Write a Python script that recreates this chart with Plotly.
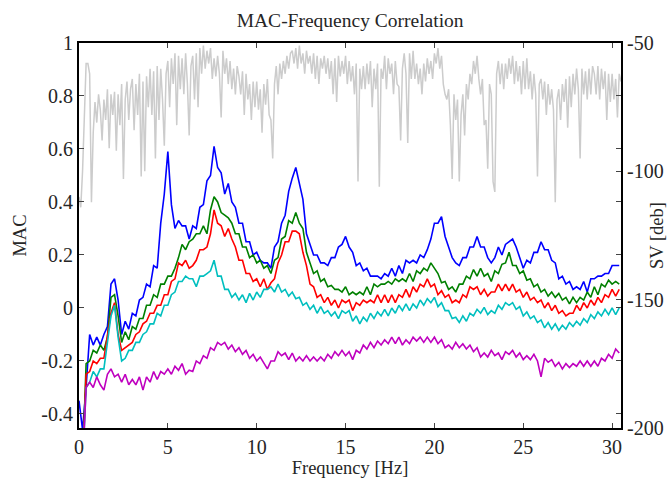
import plotly.graph_objects as go

step = 0.2
n_col = 153
freq = [round(i * step, 2) for i in range(n_col)]

blue = [
    -0.35, -0.46, -0.30, -0.10, -0.14, -0.11, -0.14, -0.10, -0.07, 0.09,
    0.11, 0.03, -0.10, -0.05, -0.08, -0.02, -0.03, 0.03, 0.04, 0.09,
    0.08, 0.16, 0.15, 0.32, 0.43, 0.59, 0.39, 0.30, 0.33, 0.31,
    0.31, 0.26, 0.31, 0.30, 0.38, 0.39, 0.48, 0.50, 0.61, 0.53,
    0.51, 0.43, 0.47, 0.40, 0.38, 0.32, 0.32, 0.25, 0.25, 0.20,
    0.21, 0.18, 0.17, 0.17, 0.15, 0.23, 0.25, 0.32, 0.35, 0.44,
    0.49, 0.53, 0.47, 0.41, 0.28, 0.24, 0.20, 0.20, 0.17, 0.17,
    0.16, 0.19, 0.19, 0.23, 0.24, 0.27, 0.23, 0.21, 0.16, 0.17,
    0.14, 0.15, 0.12, 0.12, 0.12, 0.11, 0.13, 0.12, 0.15, 0.12,
    0.16, 0.13, 0.18, 0.17, 0.18, 0.17, 0.20, 0.19, 0.22, 0.26,
    0.32, 0.32, 0.345, 0.27, 0.23, 0.19, 0.17, 0.16, 0.19, 0.19,
    0.23, 0.23, 0.27, 0.23, 0.23, 0.19, 0.17, 0.19, 0.23, 0.20,
    0.24, 0.25, 0.26, 0.23, 0.19, 0.15, 0.18, 0.17, 0.21, 0.21,
    0.25, 0.22, 0.22, 0.18, 0.17, 0.11, 0.12, 0.09, 0.10, 0.07,
    0.08, 0.07, 0.10, 0.06, 0.11, 0.11, 0.12, 0.12, 0.13, 0.13,
    0.16, 0.16, 0.16,
]

green = [
    None, -0.60, -0.21, -0.20, -0.16, -0.17, -0.14, -0.16, -0.11, 0.04,
    0.05, -0.03, -0.13, -0.09, -0.12, -0.07, -0.08, -0.04, -0.04, 0.01,
    0.01, 0.05, 0.04, 0.09, 0.09, 0.12, 0.12, 0.15, 0.19, 0.24,
    0.22, 0.25, 0.26, 0.28, 0.28, 0.31, 0.28, 0.37, 0.42, 0.40,
    0.36, 0.35, 0.34, 0.32, 0.28, 0.28, 0.23, 0.23, 0.19, 0.20,
    0.17, 0.18, 0.15, 0.16, 0.13, 0.18, 0.19, 0.26, 0.27, 0.33,
    0.32, 0.36, 0.32, 0.30, 0.21, 0.17, 0.13, 0.14, 0.10, 0.11,
    0.08, 0.085, 0.07, 0.07, 0.06, 0.08, 0.05, 0.06, 0.05, 0.06,
    0.05, 0.08, 0.05, 0.09, 0.08, 0.09, 0.09, 0.10, 0.09, 0.11,
    0.10, 0.11, 0.10, 0.13, 0.10, 0.14, 0.13, 0.15, 0.14, 0.17,
    0.15, 0.13, 0.095, 0.10, 0.07, 0.08, 0.06, 0.09, 0.09, 0.12,
    0.11, 0.145, 0.12, 0.15, 0.12, 0.13, 0.10, 0.14, 0.13, 0.165,
    0.17, 0.21, 0.16, 0.16, 0.13, 0.14, 0.105, 0.11, 0.08, 0.09,
    0.06, 0.07, 0.045, 0.06, 0.04, 0.055, 0.03, 0.04, 0.015, 0.04,
    0.02, 0.04, 0.03, 0.06, 0.04, 0.08, 0.05, 0.09, 0.08, 0.105,
    0.09, 0.10, 0.09,
]

red = [
    None, -0.60, -0.25, -0.24, -0.20, -0.21, -0.19, -0.19, -0.11, -0.02,
    0.02, -0.10, -0.16, -0.15, -0.14, -0.13, -0.10, -0.09, -0.06, -0.05,
    -0.02, -0.02, 0.01, 0.01, 0.05, 0.05, 0.10, 0.11, 0.17, 0.16,
    0.18, 0.15, 0.16, 0.18, 0.22, 0.22, 0.23, 0.28, 0.37, 0.32,
    0.31, 0.27, 0.30, 0.26, 0.23, 0.18, 0.18, 0.13, 0.13, 0.10,
    0.11, 0.08, 0.11, 0.07, 0.095, 0.11, 0.17, 0.20, 0.25, 0.25,
    0.29, 0.29, 0.28, 0.21, 0.16, 0.09, 0.08, 0.04, 0.05, 0.02,
    0.04, 0.01, 0.03, 0.00, 0.03, 0.02, 0.03, -0.01, 0.02, 0.01,
    0.03, 0.02, 0.03, 0.02, 0.05, 0.02, 0.05, 0.02, 0.05, 0.02,
    0.05, 0.04, 0.07, 0.04, 0.08, 0.06, 0.09, 0.08, 0.11, 0.08,
    0.09, 0.05, 0.065, 0.04, 0.05, 0.02, 0.03, 0.02, 0.05, 0.04,
    0.08, 0.07, 0.08, 0.05, 0.07, 0.045, 0.06, 0.06, 0.09, 0.065,
    0.09, 0.065, 0.09, 0.06, 0.07, 0.04, 0.06, 0.03, 0.04, 0.02,
    0.03, 0.00, 0.02, -0.01, 0.01, -0.02, -0.01, -0.03, -0.02, -0.02,
    0.01, -0.01, 0.02, 0.00, 0.03, 0.01, 0.04, 0.02, 0.05, 0.04,
    0.07, 0.045, 0.07,
]

cyan = [
    None, -0.60, -0.30, -0.28, -0.24, -0.26, -0.23, -0.23, -0.13, -0.03,
    0.01, -0.11, -0.20, -0.19, -0.16, -0.16, -0.13, -0.13, -0.10, -0.09,
    -0.06, -0.06, -0.02, -0.03, 0.01, 0.01, 0.05, 0.06, 0.10, 0.10,
    0.12, 0.11, 0.11, 0.08, 0.12, 0.12, 0.13, 0.14, 0.18, 0.12,
    0.12, 0.07, 0.07, 0.04, 0.055, 0.03, 0.05, 0.02, 0.055, 0.03,
    0.06, 0.04, 0.07, 0.07, 0.08, 0.06, 0.09, 0.06, 0.07, 0.045,
    0.06, 0.035, 0.04, 0.01, 0.02, -0.005, 0.01, -0.02, 0.005, -0.02,
    -0.01, -0.03, -0.015, -0.04, -0.01, -0.02, -0.01, -0.05, -0.03, -0.06,
    -0.035, -0.05, -0.02, -0.04, -0.015, -0.03, -0.005, -0.03, 0.00, -0.02,
    0.01, -0.01, 0.015, -0.01, 0.015, 0.00, 0.03, 0.01, 0.035, 0.02,
    0.04, 0.005, 0.02, -0.01, -0.01, -0.04, -0.035, -0.055, -0.03, -0.05,
    -0.02, -0.03, -0.005, -0.02, 0.002, -0.025, -0.01, -0.02, 0.01, -0.005,
    0.02, 0.01, 0.02, -0.005, 0.005, -0.03, -0.015, -0.04, -0.03, -0.055,
    -0.045, -0.075, -0.055, -0.08, -0.06, -0.085, -0.065, -0.08, -0.055, -0.07,
    -0.05, -0.065, -0.04, -0.055, -0.025, -0.04, -0.015, -0.03, -0.005, -0.025,
    0.00, -0.025, 0.00,
]

magenta = [
    None, -0.60, -0.30, -0.28, -0.30, -0.26, -0.29, -0.31, -0.25, -0.23,
    -0.26, -0.25, -0.28, -0.25, -0.29, -0.27, -0.29, -0.26, -0.31, -0.26,
    -0.28, -0.24, -0.27, -0.24, -0.25, -0.23, -0.25, -0.22, -0.235, -0.21,
    -0.25, -0.235, -0.24, -0.20, -0.21, -0.18, -0.19, -0.15, -0.16, -0.13,
    -0.14, -0.13, -0.155, -0.14, -0.165, -0.15, -0.175, -0.16, -0.19, -0.175,
    -0.20, -0.185, -0.21, -0.23, -0.20, -0.20, -0.165, -0.18, -0.17, -0.195,
    -0.17, -0.20, -0.185, -0.20, -0.18, -0.20, -0.185, -0.20, -0.185, -0.20,
    -0.175, -0.19, -0.165, -0.18, -0.16, -0.18, -0.165, -0.195, -0.16, -0.17,
    -0.14, -0.155, -0.13, -0.15, -0.125, -0.14, -0.12, -0.135, -0.11, -0.135,
    -0.11, -0.14, -0.12, -0.135, -0.11, -0.125, -0.11, -0.13, -0.11, -0.13,
    -0.11, -0.135, -0.12, -0.15, -0.14, -0.155, -0.13, -0.15, -0.135, -0.155,
    -0.14, -0.165, -0.15, -0.185, -0.17, -0.185, -0.16, -0.18, -0.17, -0.195,
    -0.165, -0.175, -0.16, -0.185, -0.17, -0.195, -0.18, -0.195, -0.175, -0.20,
    -0.26, -0.19, -0.205, -0.195, -0.22, -0.205, -0.23, -0.21, -0.225, -0.21,
    -0.22, -0.20, -0.22, -0.20, -0.22, -0.20, -0.22, -0.19, -0.20, -0.175,
    -0.19, -0.155, -0.17,
]

sv_step = 0.1
sv = [
    -110, -114, -100, -75, -58, -58, -62, -112, -85, -73,
    -81, -70, -76, -88, -72, -80, -68, -91, -70, -78,
    -69, -92, -70, -82, -66, -103, -72, -65, -80, -68,
    -64, -84, -66, -78, -62, -102, -65, -100, -63, -75,
    -60, -78, -61, -95, -59, -80, -60, -72, -90, -62,
    -57, -75, -56, -66, -54, -82, -55, -68, -56, -70,
    -54, -66, -86, -59, -55, -72, -54, -75, -52, -62,
    -51, -60, -53, -58, -52, -64, -56, -63, -55, -62,
    -79, -53, -62, -56, -66, -57, -68, -60, -70, -59,
    -63, -70, -61, -78, -62, -72, -66, -80, -65, -75,
    -65, -76, -68, -85, -66, -74, -64, -78, -80, -95,
    -66, -59, -70, -58, -64, -57, -62, -55, -60, -54,
    -53, -58, -52, -60, -51, -58, -54, -62, -53, -58,
    -55, -62, -54, -64, -55, -66, -56, -60, -55, -62,
    -56, -64, -57, -70, -56, -73, -55, -63, -57, -62,
    -55, -66, -57, -65, -59, -70, -58, -104, -60, -68,
    -59, -68, -58, -66, -57, -75, -60, -68, -58, -106,
    -60, -64, -55, -68, -56, -62, -58, -70, -57, -66,
    -67, -88, -60, -54, -62, -89, -54, -64, -53, -64,
    -58, -66, -60, -70, -58, -65, -56, -62, -57, -64,
    -54, -58, -52, -60, -55, -66, -70, -72, -68, -82,
    -103, -70, -80, -72, -104, -78, -70, -86, -66, -72,
    -62, -66, -57, -62, -55, -64, -70, -64, -82, -80,
    -99, -66, -70, -104, -108, -62, -57, -66, -58, -68,
    -58, -64, -56, -62, -55, -66, -57, -65, -59, -70,
    -57, -68, -56, -68, -61, -72, -62, -70, -102, -66,
    -64, -72, -65, -78, -66, -74, -68, -76, -112, -72,
    -68, -80, -66, -73, -64, -83, -63, -75, -62, -70,
    -60, -68, -95, -60, -70, -61, -72, -60, -70, -59,
    -62, -70, -59, -72, -60, -68, -61, -80, -62, -73,
    -62, -72, -64, -79, -62, -65,
]
sv_freq = [round(i * sv_step, 2) for i in range(len(sv))]

mac_ticks = [-0.4, -0.2, 0, 0.2, 0.4, 0.6, 0.8, 1]
mac_ticktext = ["-0.4", "-0.2", "0", "0.2", "0.4", "0.6", "0.8", "1"]
sv_ticks = [-50, -100, -150, -200]
sv_ticktext = ["-50", "-100", "-150", "-200"]
x_ticks = [0, 5, 10, 15, 20, 25, 30]

FONT = "Liberation Serif"
TXT = "#262626"
TICKF = dict(family=FONT, size=20, color=TXT)
AXTF = dict(family=FONT, size=18.5, color=TXT)

fig = go.Figure()
fig.add_trace(go.Scatter(x=sv_freq, y=sv, mode="lines", yaxis="y",
                         line=dict(color="#cccccc", width=1.5), showlegend=False))
for vals, col in [(blue, "#0000ff"), (green, "#008000"), (red, "#ff0000"),
                  (cyan, "#00bfbf"), (magenta, "#bf00bf")]:
    fig.add_trace(go.Scatter(x=freq, y=vals, mode="lines", yaxis="y2",
                             line=dict(color=col, width=1.6), showlegend=False))

fig.update_layout(
    width=667, height=481,
    margin=dict(l=79, r=46, t=43, b=53),
    paper_bgcolor="white", plot_bgcolor="white",
    font=dict(family=FONT, size=19, color=TXT),
    title=dict(text="MAC-Frequency Correlation", x=0.525, xanchor="center",
               yref="container", y=1 - 20 / 481, yanchor="middle",
               font=dict(size=19.5, family=FONT, color=TXT)),
    xaxis=dict(range=[0, 30.5], tickvals=x_ticks, ticks="inside", ticklen=5,
               showline=True, linecolor="black", linewidth=2, mirror="ticks",
               showgrid=False, zeroline=False, automargin=False, tickfont=TICKF,
               title=dict(text="Frequency [Hz]", standoff=2, font=AXTF)),
    yaxis=dict(range=[-200, -50], side="right", tickvals=sv_ticks, ticktext=sv_ticktext,
               ticks="inside", ticklen=5, showline=True, linecolor="black", linewidth=2,
               showgrid=False, zeroline=False, automargin=False, tickfont=TICKF,
               title=dict(text="SV [deb]", standoff=0, font=AXTF)),
    yaxis2=dict(range=[-0.453, 1.0], overlaying="y", side="left", anchor="x",
                tickvals=mac_ticks, ticktext=mac_ticktext, ticks="inside", ticklen=5,
                showline=True, linecolor="black", linewidth=2, mirror="ticks",
                showgrid=False, zeroline=False, automargin=False, tickfont=TICKF,
                title=dict(text="MAC", standoff=10, font=AXTF)),
)

fig.write_html("out.html")
